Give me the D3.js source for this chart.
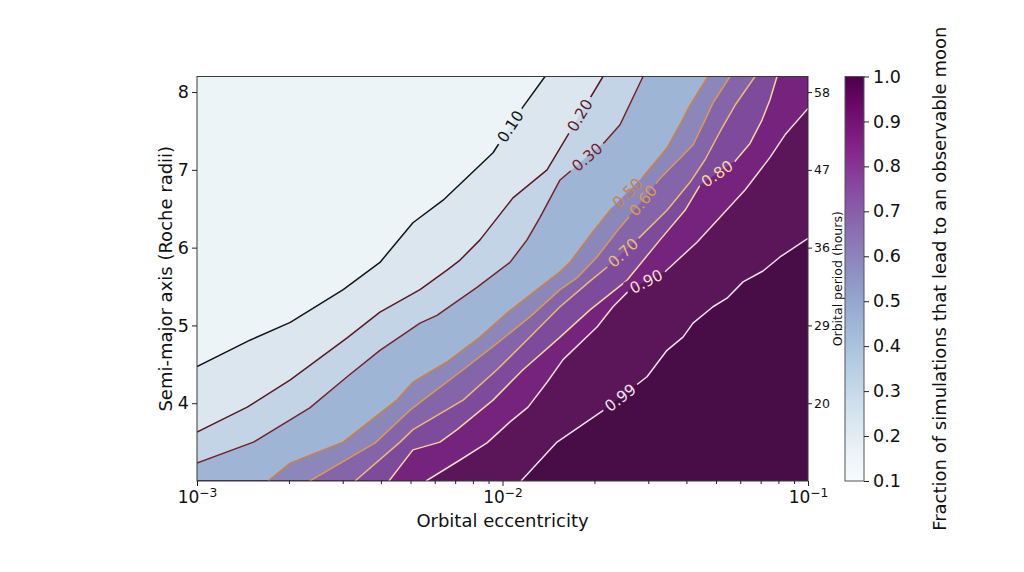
<!DOCTYPE html>
<html><head><meta charset="utf-8">
<script src="https://cdn.jsdelivr.net/npm/d3@7"></script>
<style>
body{margin:0;background:#fff;}
svg{display:block;font-family:"DejaVu Sans",sans-serif;}
</style>
</head><body>
<svg id="c" width="1024" height="572"></svg>
<script>
// ---------------- data ----------------
const eccDomain = [0.001, 0.1];
const axisDomain = [3.0, 8.2];
const cbDomain = [0.1, 1.0];
const levels = [0.10, 0.20, 0.30, 0.50, 0.60, 0.70, 0.80, 0.90, 0.99];
const levelLabels = ["0.10","0.20","0.30","0.50","0.60","0.70","0.80","0.90","0.99"];
// contour lines: [eccentricity, semi-major axis (Roche radii)]
const contour10 = [[0.001,4.47],[0.00149,4.81],[0.00202,5.04],[0.00301,5.46],[0.00397,5.81],[0.00509,6.32],[0.00639,6.61],[0.00931,7.22],[0.01167,7.81],[0.01378,8.2]];
const contour20 = [[0.001,3.63],[0.00146,3.95],[0.00202,4.30],[0.00310,4.84],[0.00397,5.17],[0.00537,5.46],[0.00658,5.71],[0.00726,5.84],[0.00844,6.10],[0.01082,6.64],[0.01399,7.00],[0.01638,7.45],[0.02133,8.2]];
const contour30 = [[0.001,3.23],[0.00153,3.50],[0.00234,3.94],[0.00310,4.34],[0.00397,4.68],[0.00537,5.03],[0.00610,5.13],[0.00825,5.49],[0.01058,5.81],[0.01203,6.10],[0.01327,6.39],[0.01543,6.87],[0.02165,7.36],[0.02425,7.58],[0.02884,8.2]];
const contour50 = [[0.00171,3.0],[0.00202,3.23],[0.00301,3.50],[0.00451,4.04],[0.00509,4.27],[0.00658,4.53],[0.00844,4.85],[0.01035,5.16],[0.01297,5.46],[0.01543,5.69],[0.01663,5.81],[0.01963,6.19],[0.02283,6.51],[0.02884,6.91],[0.03455,7.28],[0.03811,7.58],[0.04110,7.83],[0.04707,8.2]];
const contour60 = [[0.00234,3.0],[0.00383,3.49],[0.00498,3.91],[0.00549,4.04],[0.00743,4.43],[0.00959,4.77],[0.01230,5.11],[0.01543,5.46],[0.01753,5.61],[0.02039,5.88],[0.02425,6.26],[0.02884,6.61],[0.03278,6.89],[0.04204,7.32],[0.04602,7.64],[0.04887,7.86],[0.05556,8.2]];
const contour70 = [[0.00329,3.0],[0.00462,3.50],[0.00509,3.66],[0.00743,4.04],[0.00959,4.43],[0.01230,4.85],[0.01543,5.24],[0.01934,5.57],[0.02249,5.78],[0.02756,6.10],[0.03455,6.48],[0.04110,6.84],[0.04602,7.13],[0.05152,7.49],[0.05769,7.83],[0.06707,8.2]];
const contour80 = [[0.00425,3.0],[0.00509,3.40],[0.00624,3.50],[0.00710,3.66],[0.00931,4.04],[0.01167,4.43],[0.01543,4.85],[0.01934,5.20],[0.02556,5.58],[0.03278,6.10],[0.03958,6.48],[0.04431,6.80],[0.05769,7.11],[0.06459,7.34],[0.07071,7.64],[0.07510,7.90],[0.07917,8.2]];
const contour90 = [[0.00562,3.0],[0.00726,3.27],[0.00890,3.49],[0.01058,3.76],[0.01212,3.95],[0.01399,4.27],[0.01578,4.56],[0.02039,4.98],[0.02300,5.24],[0.02614,5.46],[0.03404,5.69],[0.04332,6.07],[0.05037,6.35],[0.06220,6.74],[0.07510,7.16],[0.08408,7.45],[0.1,7.79]];
const contour99 = [[0.01150,3.0],[0.01508,3.50],[0.02198,3.94],[0.02972,4.34],[0.03455,4.68],[0.03898,4.85],[0.04204,5.03],[0.04887,5.24],[0.05431,5.35],[0.06127,5.56],[0.07124,5.70],[0.08097,5.88],[0.1,6.12]];
const contours = [contour10, contour20, contour30, contour50, contour60, contour70, contour80, contour90, contour99];
// eccentricity at which each inline label sits
const labelEcc = [0.0106, 0.0179, 0.0189, 0.0256, 0.0288, 0.0248, 0.0504, 0.0295, 0.0243];
const yTicks = [4, 5, 6, 7, 8];
const periodTickLabels = ["20", "29", "36", "47", "58"];
const xMajorTicks = [0.001, 0.01, 0.1];
const cbTicks = [0.1, 0.2, 0.3, 0.4, 0.5, 0.6, 0.7, 0.8, 0.9, 1.0];

// ---------------- styles ----------------
const bandColors = ["#edf4f8","#dbe6ef","#c2d4e6","#9fb5d5","#8b87ba","#8565a9","#7e4a9b","#75237c","#5b1659","#480c47"];
const lineColors = ["#151515","#5c1a1e","#7a2327","#d2803a","#df9a4c","#ebbd72","#f3d99a","#f3dcd0","#eee2ee"];
const W = 1024, H = 572;
const L = 197, R = 808, T = 76.5, B = 481;

const svg = d3.select("#c");
const x = d3.scaleLog().domain(eccDomain).range([L, R]);
const y = d3.scaleLinear().domain(axisDomain).range([B, T]);
const defs = svg.append("defs");
defs.append("clipPath").attr("id","plotclip").append("rect")
  .attr("x", L).attr("y", T).attr("width", R - L).attr("height", B - T);

const plot = svg.append("g").attr("clip-path","url(#plotclip)");
plot.append("rect").attr("x", x(eccDomain[0])).attr("y", y(axisDomain[1]))
  .attr("width", x(eccDomain[1]) - x(eccDomain[0])).attr("height", y(axisDomain[0]) - y(axisDomain[1]))
  .attr("fill", bandColors[0]);

const corners = [[eccDomain[1], axisDomain[1]], [eccDomain[1], axisDomain[0]], [eccDomain[0], axisDomain[0]]];
const line = d3.line().x(d => x(d[0])).y(d => y(d[1]));
contours.forEach((c, i) => {
  plot.append("path").attr("d", line(c.concat(corners)) + "Z")
    .attr("fill", bandColors[i + 1]).attr("stroke", bandColors[i + 1]).attr("stroke-width", 0.5);
});

// mask for the inline label gaps
const mask = defs.append("mask").attr("id","gapmask").attr("maskUnits","userSpaceOnUse")
  .attr("x",0).attr("y",0).attr("width",W).attr("height",H);
mask.append("rect").attr("width",W).attr("height",H).attr("fill","white");
const linesG = plot.append("g").attr("mask","url(#gapmask)");
contours.forEach((c, i) => {
  linesG.append("path").attr("d", line(c)).attr("fill","none")
    .attr("stroke", lineColors[i]).attr("stroke-width", 1.5).attr("stroke-linejoin","round");
});

const labelsG = plot.append("g");
contours.forEach((c, i) => {
  const pts = c.map(d => [x(d[0]), y(d[1])]);
  const cum = [0];
  for (let k = 1; k < pts.length; k++) cum.push(cum[k-1] + Math.hypot(pts[k][0]-pts[k-1][0], pts[k][1]-pts[k-1][1]));
  const px = x(labelEcc[i]);
  let s = 0;
  for (let k = 0; k < pts.length - 1; k++) {
    const a = pts[k], b = pts[k+1];
    if ((px - a[0]) * (px - b[0]) <= 0 && a[0] !== b[0]) {
      const t = (px - a[0]) / (b[0] - a[0]);
      s = cum[k] + t * (cum[k+1] - cum[k]); break;
    }
  }
  const at = ss => {
    ss = Math.max(0, Math.min(cum[cum.length-1], ss));
    for (let k = 0; k < pts.length - 1; k++) {
      if (ss <= cum[k+1]) {
        const t = (ss - cum[k]) / ((cum[k+1] - cum[k]) || 1);
        return [pts[k][0] + t*(pts[k+1][0]-pts[k][0]), pts[k][1] + t*(pts[k+1][1]-pts[k][1])];
      }
    }
    return pts[pts.length-1];
  };
  const p = at(s), p1 = at(s - 17), p2 = at(s + 17);
  let ang = Math.atan2(p2[1]-p1[1], p2[0]-p1[0]) * 180 / Math.PI;
  if (ang > 90) ang -= 180; if (ang < -90) ang += 180;
  const tr = `translate(${p[0]},${p[1]}) rotate(${ang})`;
  const t = labelsG.append("text").attr("transform", tr)
    .attr("text-anchor","middle").attr("dy","0.36em")
    .attr("font-size", 15.5).attr("fill", lineColors[i]).text(levelLabels[i]);
  const w = t.node().getComputedTextLength();
  mask.append("rect").attr("x", -w/2 - 4).attr("y", -9).attr("width", w + 8).attr("height", 18)
    .attr("transform", tr).attr("fill","black");
});

// frame
svg.append("rect").attr("x", L).attr("y", T).attr("width", R - L).attr("height", B - T)
  .attr("fill","none").attr("stroke","#3a3a3a").attr("stroke-width",1);

function styleAxis(g, size) {
  g.select(".domain").remove();
  g.attr("font-family", "DejaVu Sans, sans-serif").attr("font-size", size);
  g.selectAll(".tick line").attr("stroke", "#222").attr("stroke-width", 1);
  g.selectAll(".tick text").attr("fill", "#111");
}

// left axis
const gl = svg.append("g").attr("transform", `translate(${L},0)`)
  .call(d3.axisLeft(y).tickValues(yTicks).tickSize(5).tickPadding(3).tickFormat(d3.format("d")));
styleAxis(gl, 17.5);

// right axis (orbital period)
const gr = svg.append("g").attr("transform", `translate(${R},0)`)
  .call(d3.axisRight(y).tickValues(yTicks).tickSize(4).tickPadding(2).tickFormat((d, i) => periodTickLabels[i]));
styleAxis(gr, 12.5);

// bottom axis: minor
const minor = x.ticks().filter(v => xMajorTicks.indexOf(v) < 0 && Math.abs(Math.log10(v) - Math.round(Math.log10(v))) > 1e-6);
const gbm = svg.append("g").attr("transform", `translate(0,${B})`)
  .call(d3.axisBottom(x).tickValues(minor).tickSize(3).tickFormat(""));
styleAxis(gbm, 10);
// bottom axis: major
const gb = svg.append("g").attr("transform", `translate(0,${B})`)
  .call(d3.axisBottom(x).tickValues(xMajorTicks).tickSize(5).tickPadding(5));
styleAxis(gb, 17);
gb.selectAll(".tick text").each(function(d) {
  const t = d3.select(this).text("");
  const e = Math.round(Math.log10(d));
  t.append("tspan").text("10");
  t.append("tspan").attr("dy", "-0.5em").attr("font-size", "0.72em").text("\u2212" + Math.abs(e));
});

// axis labels
svg.append("text").attr("x", (L + R) / 2).attr("y", 527).attr("text-anchor","middle")
  .attr("font-size", 18).attr("fill","#111").text("Orbital eccentricity");
svg.append("text").attr("transform", `translate(172,${(T + B) / 2}) rotate(-90)`).attr("text-anchor","middle")
  .attr("font-size", 18).attr("fill","#111").text("Semi-major axis (Roche radii)");
svg.append("text").attr("transform", `translate(842,${(T + B) / 2}) rotate(-90)`).attr("text-anchor","middle")
  .attr("font-size", 12.5).attr("fill","#111").text("Orbital period (hours)");

// colorbar
const CBL = 845, CBR = 864;
const cb = d3.scaleLinear().domain(cbDomain).range([B, T]);
const grad = defs.append("linearGradient").attr("id","cbgrad").attr("x1",0).attr("y1",1).attr("x2",0).attr("y2",0);
d3.range(0, 1.0001, 0.05).forEach(t => grad.append("stop").attr("offset", t).attr("stop-color", d3.interpolateBuPu(t)));
svg.append("rect").attr("x", CBL).attr("y", cb(cbDomain[1])).attr("width", CBR - CBL)
  .attr("height", cb(cbDomain[0]) - cb(cbDomain[1])).attr("fill","url(#cbgrad)")
  .attr("stroke","#555").attr("stroke-width",1);
const gc = svg.append("g").attr("transform", `translate(${CBR},0)`)
  .call(d3.axisRight(cb).tickValues(cbTicks).tickSize(5).tickPadding(4).tickFormat(d3.format(".1f")));
styleAxis(gc, 17.5);
svg.append("text").attr("transform", `translate(946,${(T + B) / 2}) rotate(-90)`).attr("text-anchor","middle")
  .attr("font-size", 18).attr("fill","#111").text("Fraction of simulations that lead to an observable moon");
</script>
</body></html>
